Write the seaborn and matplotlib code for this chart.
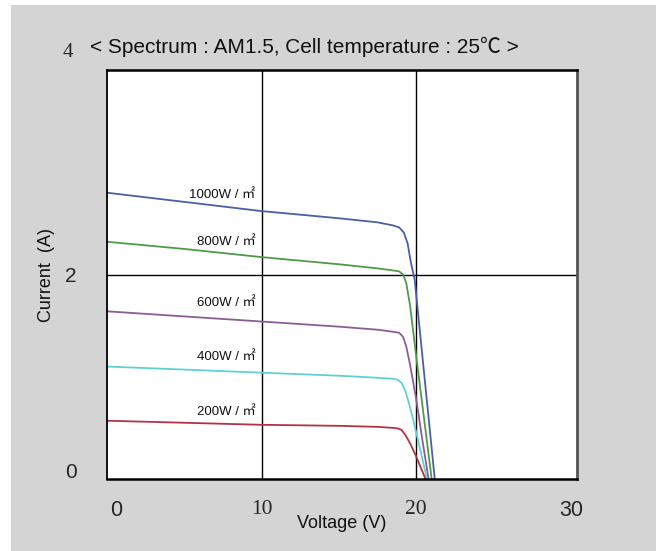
import matplotlib
matplotlib.use("Agg")
import matplotlib.pyplot as plt
import seaborn as sns
import pandas as pd
from matplotlib.patches import Rectangle
from matplotlib.transforms import ScaledTranslation

# ---- data ----
labels = ["1000W / ㎡", "800W / ㎡", "600W / ㎡", "400W / ㎡", "200W / ㎡"]
v_1000 = [0, 5, 10, 15, 17.5, 18.5, 18.9, 19.2, 19.45, 19.65, 19.9, 20.5, 21.2]
i_1000 = [2.80, 2.71, 2.62, 2.55, 2.51, 2.48, 2.46, 2.41, 2.30, 2.12, 1.95, 1.05, 0]
v_800 = [0, 5, 10, 15, 17.5, 18.5, 18.9, 19.15, 19.35, 19.6, 20.0, 20.5, 21.0]
i_800 = [2.32, 2.25, 2.17, 2.10, 2.06, 2.04, 2.03, 2.00, 1.92, 1.70, 1.20, 0.60, 0]
v_600 = [0, 5, 10, 15, 17.5, 18.5, 18.9, 19.15, 19.35, 19.6, 20.0, 20.4, 20.8]
i_600 = [1.64, 1.59, 1.54, 1.49, 1.46, 1.44, 1.43, 1.39, 1.30, 1.12, 0.78, 0.38, 0]
v_400 = [0, 5, 10, 15, 17.5, 18.5, 18.8, 19.05, 19.3, 19.55, 19.9, 20.3, 20.7]
i_400 = [1.10, 1.07, 1.04, 1.01, 0.99, 0.98, 0.97, 0.94, 0.86, 0.73, 0.52, 0.26, 0]
v_200 = [0, 5, 10, 15, 17.5, 18.5, 18.8, 19.05, 19.3, 19.6, 20.0, 20.3, 20.6]
i_200 = [0.57, 0.55, 0.53, 0.52, 0.51, 0.50, 0.495, 0.48, 0.43, 0.35, 0.22, 0.11, 0]
label_x = [9.6, 9.6, 9.6, 9.6, 9.6]
label_y = [2.78, 2.32, 1.72, 1.19, 0.66]
x_ticks = [0, 10, 20, 30]
y_ticks = [0, 2, 4]
colors = ["#4b5fa6", "#4f9a48", "#8c5c98", "#5fd0d6", "#b23345"]

series_v = [v_1000, v_800, v_600, v_400, v_200]
series_i = [i_1000, i_800, i_600, i_400, i_200]
frames = []
for lab, vv, ii in zip(labels, series_v, series_i):
    frames.append(pd.DataFrame({"V": vv, "I": ii, "irr": lab}))
df = pd.concat(frames, ignore_index=True)

sns.set_style("white")
plt.rcParams["font.family"] = ["Liberation Sans", "Noto Sans CJK KR", "DejaVu Sans"]

fig = plt.figure(figsize=(6.56, 5.51), dpi=100)
fig.patch.set_facecolor("#d4d4d4")
fig.patches.append(Rectangle((0, 0), 11 / 656, 1, transform=fig.transFigure,
                             facecolor="white", edgecolor="none", zorder=0))
fig.patches.append(Rectangle((0, 1 - 5 / 551), 1, 5 / 551, transform=fig.transFigure,
                             facecolor="white", edgecolor="none", zorder=0))

ax = fig.add_axes([107 / 656, 1 - 479 / 551, (577 - 107) / 656, (479 - 70) / 551])
ax.set_facecolor("white")

sns.lineplot(data=df, x="V", y="I", hue="irr", palette=colors, sort=False,
             estimator=None, linewidth=1.3, legend=False, ax=ax)

ax.set_xlim(0, 30.4)
ax.set_ylim(0, 4)
ax.set_xticks(x_ticks)
ax.set_yticks(y_ticks)
ax.set_xticklabels([str(t) for t in x_ticks], fontsize=15.5)
ax.set_yticklabels([str(t) for t in y_ticks], fontsize=15)
ax.tick_params(axis="x", length=0, pad=15)
ax.tick_params(axis="y", length=0, pad=22)
for t in ax.get_yticklabels():
    if t.get_text() == "4":
        t.set_fontfamily("Liberation Serif")
        t.set_transform(t.get_transform() + ScaledTranslation(-3 / 100, 20 / 100, fig.dpi_scale_trans))
    if t.get_text() == "0":
        t.set_transform(t.get_transform() + ScaledTranslation(0, 8 / 100, fig.dpi_scale_trans))
for t in ax.get_xticklabels():
    if t.get_text() in ("10", "20"):
        t.set_fontfamily("Liberation Serif")
    if t.get_text() == "0":
        t.set_transform(t.get_transform() + ScaledTranslation(9 / 100, 0, fig.dpi_scale_trans))

for xv in (10, 20):
    ax.axvline(xv, color="black", linewidth=1.0, zorder=1)
ax.axhline(2, color="black", linewidth=1.0, zorder=1)

for side in ("left", "top", "bottom"):
    ax.spines[side].set_color("black")
    ax.spines[side].set_linewidth(1.8)
ax.spines["left"].set_linewidth(1.3)
ax.spines["right"].set_color("#555555")
ax.spines["right"].set_linewidth(2.0)

for lab, lx, ly in zip(labels, label_x, label_y):
    ax.text(lx, ly, lab, ha="right", va="center", fontsize=9.5, color="#111111")

ax.set_xlabel("Voltage (V)", fontsize=13, labelpad=-4, color="#111111")
ax.set_ylabel("Current  (A)", fontsize=13, labelpad=6, color="#111111")

fig.text(90 / 656, 1 - 47 / 551, "< Spectrum : AM1.5, Cell temperature : 25℃ >",
         fontsize=15, ha="left", va="center", color="#111111")

fig.savefig("out.png", dpi=100, facecolor=fig.get_facecolor())
